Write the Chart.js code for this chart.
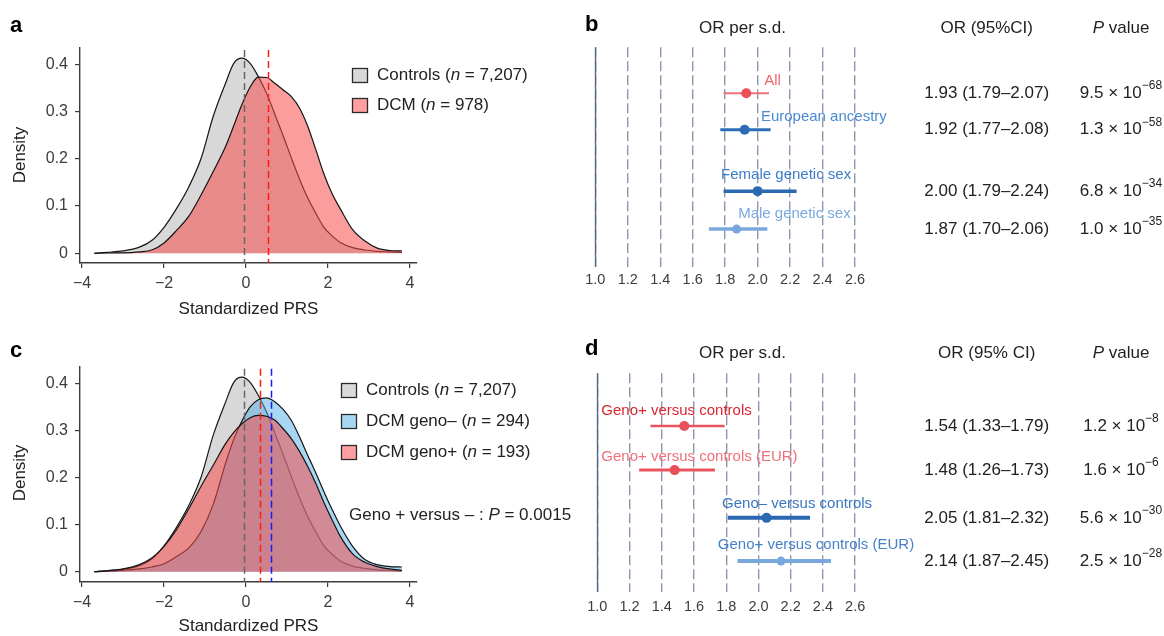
<!DOCTYPE html>
<html>
<head>
<meta charset="utf-8">
<script src="https://cdn.jsdelivr.net/npm/chart.js@4.4.1/dist/chart.umd.min.js"></script>
<style>
  body { margin: 0; background: #fff; }
  #wrap { position: relative; width: 1164px; height: 636px; overflow: hidden; }
  canvas { position: absolute; }
</style>
</head>
<body>
<div id="wrap">
  <canvas id="pa" width="580" height="320" style="left:0;top:0"></canvas>
  <canvas id="pb" width="584" height="320" style="left:580px;top:0"></canvas>
  <canvas id="pc" width="580" height="316" style="left:0;top:320px"></canvas>
  <canvas id="pd" width="584" height="316" style="left:580px;top:320px"></canvas>
</div>
<script>
// ---- data: density curves (standardized PRS) ----
const prsGrid = [-3.7, -3.4, -3.0, -2.6, -2.3, -2.0, -1.7, -1.4, -1.1, -0.8, -0.5, -0.3, -0.1, 0.1, 0.3,
                 0.5, 0.7, 0.9, 1.1, 1.3, 1.5, 1.7, 1.9, 2.1, 2.3, 2.6, 2.9, 3.2, 3.5, 3.8];
const densControls = [0.000, 0.002, 0.005, 0.013, 0.027, 0.055, 0.094, 0.140, 0.200, 0.290, 0.360, 0.402, 0.413, 0.402, 0.374,
                      0.339, 0.295, 0.250, 0.203, 0.158, 0.118, 0.085, 0.055, 0.037, 0.023, 0.012, 0.007, 0.004, 0.003, 0.002];
const densDCM = [0.000, 0.001, 0.001, 0.003, 0.007, 0.022, 0.048, 0.078, 0.123, 0.173, 0.226, 0.270, 0.315, 0.352, 0.373,
                 0.372, 0.360, 0.346, 0.332, 0.308, 0.270, 0.220, 0.168, 0.126, 0.094, 0.050, 0.026, 0.011, 0.006, 0.005];
const densGenoNeg = [0.000, 0.001, 0.003, 0.006, 0.010, 0.017, 0.032, 0.050, 0.085, 0.143, 0.230, 0.281, 0.320, 0.350, 0.365,
                     0.369, 0.361, 0.345, 0.322, 0.287, 0.248, 0.210, 0.170, 0.132, 0.097, 0.054, 0.026, 0.015, 0.011, 0.010];
const densGenoPos = [0.000, 0.002, 0.006, 0.015, 0.029, 0.054, 0.089, 0.133, 0.181, 0.226, 0.272, 0.296, 0.314, 0.327, 0.332,
                     0.330, 0.322, 0.304, 0.283, 0.256, 0.224, 0.188, 0.147, 0.110, 0.075, 0.038, 0.020, 0.011, 0.006, 0.003];
const meansA = [-0.06, 0.53];          // controls, DCM
const meansC = [-0.06, 0.33, 0.60];    // controls, geno+, geno-
const xTicksDensity = [-4, -2, 0, 2, 4];
const yTicksDensity = [0, 0.1, 0.2, 0.3, 0.4];
const legendA = ['Controls', 'DCM'];
const legendAN = ['7,207', '978'];
const legendC = ['Controls', 'DCM geno–', 'DCM geno+'];
const legendCN = ['7,207', '294', '193'];

// ---- data: forest plots (OR per s.d.) ----
const orTicks = [1.0, 1.2, 1.4, 1.6, 1.8, 2.0, 2.2, 2.4, 2.6];
const groupsB = ['All', 'European ancestry', 'Female genetic sex', 'Male genetic sex'];
const orB = [1.93, 1.92, 2.00, 1.87];
const loB = [1.79, 1.77, 1.79, 1.70];
const hiB = [2.07, 2.08, 2.24, 2.06];
const pMantB = ['9.5', '1.3', '6.8', '1.0'];
const pExpB = [68, 58, 34, 35];
const groupsD = ['Geno+ versus controls', 'Geno+ versus controls (EUR)', 'Geno– versus controls', 'Geno+ versus controls (EUR)'];
const orD = [1.54, 1.48, 2.05, 2.14];
const loD = [1.33, 1.26, 1.81, 1.87];
const hiD = [1.79, 1.73, 2.32, 2.45];
const pMantD = ['1.2', '1.6', '5.6', '2.5'];
const pExpD = [8, 6, 30, 28];

// ---- style ----
const FONT = '"Liberation Sans", Arial, Helvetica, sans-serif';
Chart.defaults.font.family = FONT;
const INK = '#222';
const AXIS = '#3c3c3c';

function fontStr(size, style, weight) {
  return `${style || 'normal'} ${weight || 'normal'} ${size}px ${FONT}`;
}
function runFont(kind, size) {
  if (kind === 'i') return fontStr(size, 'italic');
  if (kind === 'sup') return fontStr(Math.round(size * 0.7));
  if (kind === 'b') return fontStr(size, 'normal', 'bold');
  return fontStr(size);
}
// runs: [[text, kind], ...]  kind: '' | 'i' | 'sup' | 'b'
function drawRuns(ctx, runs, x, y, size, align, color) {
  ctx.save();
  ctx.fillStyle = color || INK;
  ctx.textBaseline = 'middle';
  ctx.textAlign = 'left';
  let w = 0;
  for (const [t, k] of runs) { ctx.font = runFont(k, size); w += ctx.measureText(t).width; }
  let cx = align === 'center' ? x - w / 2 : align === 'right' ? x - w : x;
  for (const [t, k] of runs) {
    ctx.font = runFont(k, size);
    ctx.fillText(t, cx, k === 'sup' ? y - size * 0.42 : y);
    cx += ctx.measureText(t).width;
  }
  ctx.restore();
}
const signed = v => (v < 0 ? '−' + Math.abs(v) : String(v));

function densityChart(id, o) {
  const datasets = o.series.map((s, i) => ({
    data: prsGrid.map((x, j) => ({ x, y: s.values[j] })),
    borderColor: '#151515',
    borderWidth: 1.2,
    backgroundColor: s.fill,
    fill: 'origin',
    pointRadius: 0,
    tension: 0.4,
    cubicInterpolationMode: 'monotone',
    order: o.series.length - i
  }));

  const extras = {
    id: 'extras',
    afterDatasetsDraw(chart) {
      const ctx = chart.ctx, area = chart.chartArea, xs = chart.scales.x;
      ctx.save();
      ctx.lineWidth = 1.5;
      ctx.setLineDash([7, 4]);
      o.means.forEach((m, i) => {
        const px = Math.round(xs.getPixelForValue(m)) + 0.5;
        ctx.strokeStyle = o.meanColors[i];
        ctx.beginPath();
        ctx.moveTo(px, area.top + 2);
        ctx.lineTo(px, area.bottom);
        ctx.stroke();
      });
      ctx.restore();
    },
    afterDraw(chart) {
      const ctx = chart.ctx, area = chart.chartArea;
      drawRuns(ctx, [[o.letter, 'b']], 10, o.letterY, 22, 'left', '#000');
      // axis titles
      ctx.save();
      ctx.translate(20, o.densityY);
      ctx.rotate(-Math.PI / 2);
      drawRuns(ctx, [['Density', '']], 0, 0, 17, 'center', INK);
      ctx.restore();
      drawRuns(ctx, [['Standardized PRS', '']], (area.left + area.right) / 2, o.titleY, 17, 'center', INK);
      // legend
      o.legend.forEach((name, i) => {
        const cy = o.legTop + i * o.legStep;
        ctx.save();
        ctx.fillStyle = o.legFill[i];
        ctx.strokeStyle = '#2a2a2a';
        ctx.lineWidth = 1.3;
        ctx.fillRect(o.legX, cy - 7.5, 16, 15);
        ctx.strokeRect(o.legX + 0.5, cy - 7, 15, 14);
        ctx.restore();
        drawRuns(ctx, [[name + ' (', ''], ['n', 'i'], [' = ' + o.legendN[i] + ')', '']],
                 o.legX + 25, cy, 17, 'left', INK);
      });
      if (o.note) {
        drawRuns(ctx, [['Geno + versus – : ', ''], ['P', 'i'], [' = 0.0015', '']], 349, o.noteY, 17, 'left', INK);
      }
    }
  };

  return new Chart(document.getElementById(id), {
    type: 'line',
    data: { datasets },
    plugins: [extras],
    options: {
      responsive: false,
      animation: false,
      devicePixelRatio: 1,
      layout: { padding: { left: 0, top: o.top, right: 163, bottom: 0 } },
      plugins: { legend: { display: false }, tooltip: { enabled: false } },
      scales: {
        x: {
          type: 'linear', min: -4.05, max: 4.17,
          afterBuildTicks: s => { s.ticks = xTicksDensity.map(v => ({ value: v })); },
          afterFit: s => { s.height = o.axisH; },
          grid: { drawOnChartArea: false, drawTicks: true, tickLength: 5, color: AXIS, lineWidth: 1.2 },
          border: { display: true, color: AXIS, width: 1.4 },
          ticks: { font: { size: 16 }, color: AXIS, padding: 6, maxRotation: 0, autoSkip: false, callback: v => signed(v) }
        },
        y: {
          type: 'linear', min: o.ymin, max: o.ymax,
          afterBuildTicks: s => { s.ticks = yTicksDensity.map(v => ({ value: v })); },
          afterFit: s => { s.width = 80; },
          grid: { drawOnChartArea: false, drawTicks: true, tickLength: 5, color: AXIS, lineWidth: 1.2 },
          border: { display: true, color: AXIS, width: 1.4 },
          ticks: { font: { size: 16 }, color: AXIS, padding: 7, autoSkip: false, callback: v => (v === 0 ? '0' : v.toFixed(1)) }
        }
      }
    }
  });
}

function forestChart(id, o) {
  const datasets = [{
    data: o.or.map((v, i) => ({ x: v, y: o.rows[i] })),
    pointRadius: o.radius,
    pointBackgroundColor: o.pointColors,
    pointBorderWidth: 0,
    showLine: false
  }];
  o.or.forEach((v, i) => datasets.push({
    data: [{ x: o.lo[i], y: o.rows[i] }, { x: o.hi[i], y: o.rows[i] }],
    showLine: true,
    borderColor: o.lineColors[i],
    borderWidth: o.lineWidths[i],
    borderCapStyle: 'butt',
    pointRadius: 0
  }));

  const extras = {
    id: 'extras',
    beforeDatasetsDraw(chart) {
      const ctx = chart.ctx, area = chart.chartArea;
      const px = Math.round(chart.scales.x.getPixelForValue(1.0)) + 0.5;
      ctx.save();
      ctx.strokeStyle = '#5a6886';
      ctx.lineWidth = 1.4;
      ctx.beginPath();
      ctx.moveTo(px, area.top);
      ctx.lineTo(px, area.bottom);
      ctx.stroke();
      ctx.restore();
    },
    afterDraw(chart) {
      const ctx = chart.ctx, xs = chart.scales.x, ys = chart.scales.y;
      drawRuns(ctx, [[o.letter, 'b']], 5, o.letterY, 22, 'left', '#000');
      drawRuns(ctx, [['OR per s.d.', '']], 162.5, o.headY, 17, 'center', INK);
      drawRuns(ctx, [[o.ciHead, '']], 406.7, o.headY, 17, 'center', INK);
      drawRuns(ctx, [['P', 'i'], [' value', '']], 541, o.headY, 17, 'center', INK);
      o.groups.forEach((g, i) => {
        const py = ys.getPixelForValue(o.rows[i]);
        drawRuns(ctx, [[g, '']], xs.getPixelForValue(o.labelAt[i]), py + o.labelDy[i], 15, 'left', o.labelColors[i]);
        const ci = `${o.or[i].toFixed(2)} (${o.lo[i].toFixed(2)}–${o.hi[i].toFixed(2)})`;
        drawRuns(ctx, [[ci, '']], 406.7, py, 17, 'center', INK);
        drawRuns(ctx, [[o.pMant[i] + ' × 10', ''], ['−' + o.pExp[i], 'sup']], 541, py, 17, 'center', INK);
      });
    }
  };

  return new Chart(document.getElementById(id), {
    type: 'scatter',
    data: { datasets },
    plugins: [extras],
    options: {
      responsive: false,
      animation: false,
      devicePixelRatio: 1,
      layout: { padding: { left: 10, top: o.top, right: 294, bottom: 0 } },
      plugins: { legend: { display: false }, tooltip: { enabled: false } },
      scales: {
        x: {
          type: 'linear', min: 0.968, max: 2.692,
          afterBuildTicks: s => { s.ticks = orTicks.map(v => ({ value: v })); },
          afterFit: s => { s.height = o.axisH; },
          grid: { drawOnChartArea: true, drawTicks: false, color: '#8b98ae', lineWidth: 1.4 },
          border: { display: false, dash: [10, 4] },
          ticks: { font: { size: 14.5 }, color: AXIS, padding: o.tickPad, maxRotation: 0, autoSkip: false, callback: v => v.toFixed(1) }
        },
        y: { type: 'linear', display: false, reverse: true, min: o.ymin, max: o.ymax }
      }
    }
  });
}

const GREY_FILL = 'rgba(190,190,190,0.6)';
const RED_FILL = 'rgba(248,76,76,0.55)';
const BLUE_FILL = 'rgba(80,175,230,0.5)';

densityChart('pa', {
  letter: 'a', letterY: 26, top: 48, axisH: 57, ymin: -0.0205, ymax: 0.4345,
  series: [{ values: densControls, fill: GREY_FILL }, { values: densDCM, fill: RED_FILL }],
  means: meansA, meanColors: ['#666666', '#ff1a1a'],
  densityY: 155, titleY: 309,
  legend: legendA, legendN: legendAN, legFill: ['#d9d9d9', '#ff9f9f'], legX: 352, legTop: 75.5, legStep: 30
});

densityChart('pc', {
  letter: 'c', letterY: 31, top: 46.7, axisH: 54, ymin: -0.0218, ymax: 0.4352,
  series: [{ values: densControls, fill: GREY_FILL }, { values: densGenoNeg, fill: BLUE_FILL }, { values: densGenoPos, fill: RED_FILL }],
  means: meansC, meanColors: ['#666666', '#ff1a1a', '#1a1aff'],
  densityY: 153, titleY: 306.7,
  legend: legendC, legendN: legendCN, legFill: ['#d9d9d9', '#a7d7f2', '#ff9f9f'], legX: 341, legTop: 70.5, legStep: 31,
  note: true, noteY: 195
});

forestChart('pb', {
  letter: 'b', letterY: 25, headY: 28.3, ciHead: 'OR (95%CI)', top: 47.3, axisH: 53.3, tickPad: 5,
  rows: [1, 2, 3.68, 4.72], ymin: -0.26, ymax: 5.75,
  groups: groupsB, or: orB, lo: loB, hi: hiB, pMant: pMantB, pExp: pExpB,
  labelAt: [2.04, 2.02, 1.775, 1.88], labelDy: [-12.6, -12.6, -16.7, -15.7],
  labelColors: ['#f0646c', '#4a8ad0', '#3d7cc8', '#7ba9e0'],
  pointColors: ['#e8505a', '#2d6cb5', '#2a68b0', '#78a6dc'],
  lineColors: ['#f07078', '#2d6cb5', '#2a68b0', '#7aa8dc'],
  lineWidths: [2, 3, 3.5, 3.5], radius: [5, 5, 5, 4.5]
});

forestChart('pd', {
  letter: 'd', letterY: 29, headY: 33.3, ciHead: 'OR (95% CI)', top: 53.3, axisH: 44.3, tickPad: 7,
  rows: [1, 1.98, 3.04, 4.0], ymin: -0.17, ymax: 4.68,
  groups: groupsD, or: orD, lo: loD, hi: hiD, pMant: pMantD, pExp: pExpD,
  labelAt: [1.025, 1.025, 1.774, 1.748], labelDy: [-15.3, -13.3, -14.4, -16],
  labelColors: ['#d8262c', '#f0707a', '#3a78c0', '#4680c8'],
  pointColors: ['#e8505a', '#e8505a', '#2c68b0', '#7aa8dc'],
  lineColors: ['#e8555c', '#e8555c', '#2c68b0', '#7aa8dc'],
  lineWidths: [2.5, 3, 4, 4], radius: [5, 5, 5, 4.5]
});
</script>
</body>
</html>
